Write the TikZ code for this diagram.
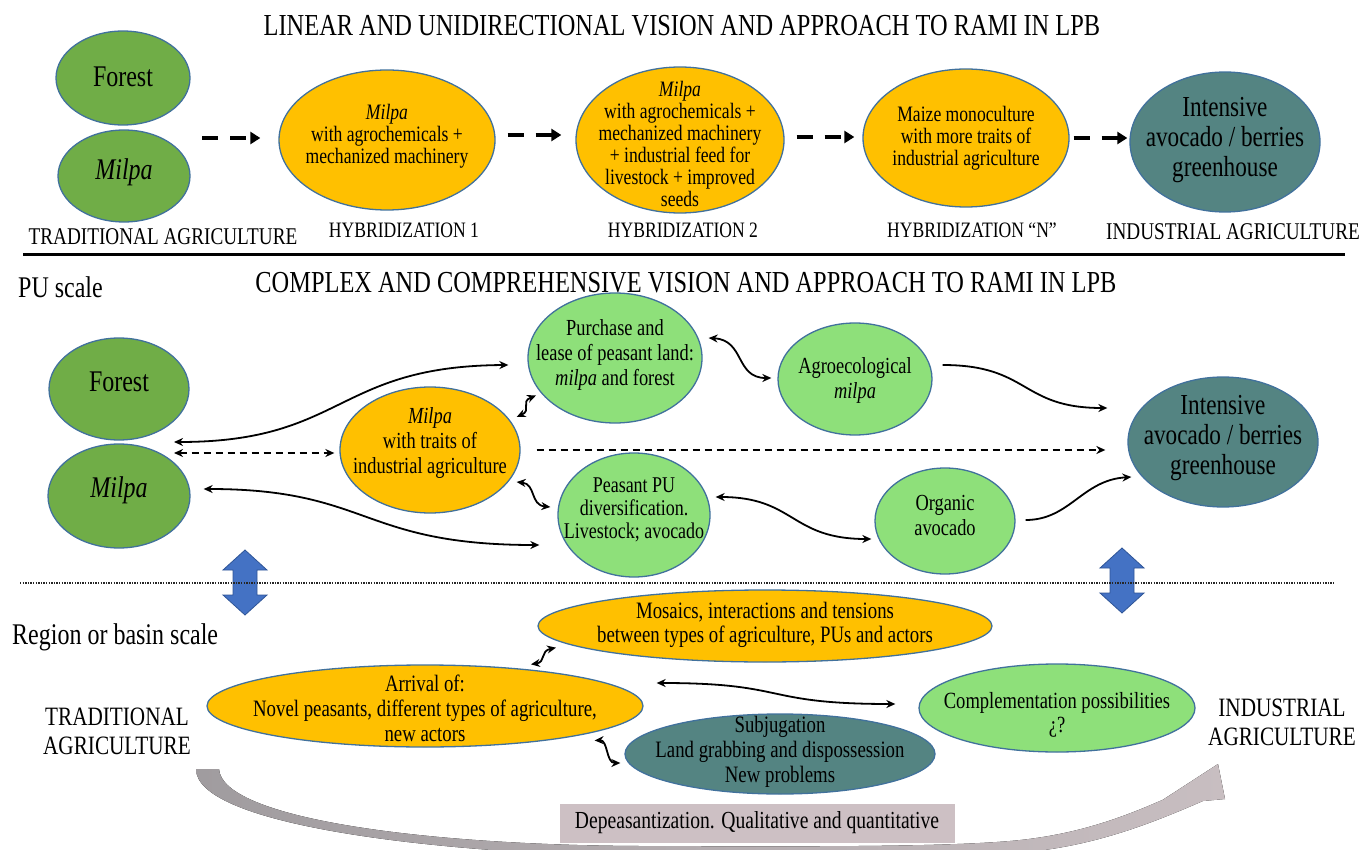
\documentclass[tikz,border=0pt]{standalone}
\usepackage{fontspec}
\setmainfont{Liberation Serif}[FakeStretch=0.8]
\usetikzlibrary{shapes.geometric,arrows.meta,calc}
\definecolor{dkgreen}{RGB}{112,173,71}
\definecolor{orangeC}{RGB}{255,192,0}
\definecolor{ltgreen}{RGB}{142,224,122}
\definecolor{tealC}{RGB}{84,132,130}
\definecolor{outlineC}{RGB}{65,113,156}
\definecolor{blueC}{RGB}{68,114,196}
\definecolor{blueD}{RGB}{47,85,151}
\definecolor{mauveC}{RGB}{205,192,196}
\definecolor{grayL}{RGB}{160,156,159}
\definecolor{grayR}{RGB}{200,190,193}
\newcommand{\myfs}[2]{\fontsize{#1}{#2}\selectfont}
\begin{document}
\begin{tikzpicture}[x=1pt,y=-1pt,
  ell/.style={ellipse,draw=outlineC,line width=1.3pt,inner sep=0pt},
  dg/.style={ell,fill=dkgreen},
  og/.style={ell,fill=orangeC},
  lg/.style={ell,fill=ltgreen},
  tg/.style={ell,fill=tealC},
  txt/.style={align=center,inner sep=0pt},
  t30/.style={txt,font=\myfs{30}{32}},
  t29/.style={txt,font=\myfs{29}{30}},
  t26/.style={txt,font=\myfs{26.5}{29}},
  t24/.style={txt,font=\myfs{24}{25}},
  t23/.style={txt,font=\myfs{23}{25}},
  t22/.style={txt,font=\myfs{22}{22}},
  l22/.style={txt,font=\myfs{22}{22}},
  dasharr/.style={line width=4pt,dash pattern=on 16pt off 12pt,-{Triangle[length=10pt,width=12pt]}},
  con/.style={line width=1.8pt},
  bi/.style={con,{Stealth[length=9pt,width=8pt]}-{Stealth[length=9pt,width=8pt]}},
  one/.style={con,-{Stealth[length=9pt,width=8pt]}},
  bidash/.style={bi,dash pattern=on 7pt off 5pt},
  onedash/.style={one,dash pattern=on 7pt off 5pt},
  bluearr/.style={fill=blueC,draw=blueD,line width=0.8pt}
]
\useasboundingbox (0,0) rectangle (1365,850);
\clip (0,0) rectangle (1365,850);

% ---------------- TOP ----------------
\node[font=\myfs{30.5}{32},inner sep=0pt] (title1) at (682,26) {LINEAR AND UNIDIRECTIONAL VISION AND APPROACH TO RAMI IN LPB};

\node[dg,minimum width=134,minimum height=94] (forestT) at (123,78) {};
\node[t30] (forestTt) at (123,77) {Forest};
\node[dg,minimum width=132,minimum height=92] (milpaT) at (124,176) {};
\node[t30] (milpaTt) at (124,172) {\textit{Milpa}};
\node[t24] (tradT) at (163,237) {TRADITIONAL AGRICULTURE};

\node[og,minimum width=216,minimum height=140] (h1) at (387,140) {};
\node[t22] (h1t) at (387,136) {\textit{Milpa}\\with agrochemicals +\\mechanized machinery};
\node[l22] (h1l) at (404,230) {HYBRIDIZATION 1};

\node[og,minimum width=208,minimum height=146] (h2) at (680,140) {};
\node[t22] (h2t) at (680,144) {\textit{Milpa}\\with agrochemicals +\\mechanized machinery\\+ industrial feed for\\livestock + improved\\seeds};
\node[l22] (h2l) at (683,230) {HYBRIDIZATION 2};

\node[og,minimum width=206,minimum height=138] (hN) at (966,138) {};
\node[t22] (hNt) at (966,138) {Maize monoculture\\with more traits of\\industrial agriculture};
\node[l22] (hNl) at (972,230) {HYBRIDIZATION “N”};

\node[tg,minimum width=190,minimum height=140] (intT) at (1225,142) {};
\node[t29] (intTt) at (1225,140) {Intensive\\avocado / berries\\greenhouse};
\node[t24] (indT) at (1233,232) {INDUSTRIAL AGRICULTURE};

\draw[dasharr] ($(h1.west)+(-76,-2)$) -- ($(h1.west)+(-18,-2)$);
\draw[dasharr] ($(h1.east)+(12,-5)$) -- ($(h2.west)+(-14,-5)$);
\draw[dasharr] ($(h2.east)+(12,-3)$) -- ($(hN.west)+(-8,-1)$);
\draw[dasharr] ($(hN.east)+(4,0)$) -- ($(intT.west)+(-2,-4)$);

\draw[line width=3pt] (23,255) -- (1345,255);

% ---------------- MIDDLE ----------------
\node[t30,anchor=west] (puscale) at (18,287) {PU scale};
\node[font=\myfs{30.5}{32},inner sep=0pt] (title2) at (686,283) {COMPLEX AND COMPREHENSIVE VISION AND APPROACH TO RAMI IN LPB};

\node[dg,minimum width=140,minimum height=102] (forestM) at (119,389) {};
\node[t30] (forestMt) at (119,382) {Forest};
\node[dg,minimum width=142,minimum height=104] (milpaM) at (119,496) {};
\node[t30] (milpaMt) at (119,490) {\textit{Milpa}};

\node[og,minimum width=180,minimum height=126] (milpaInd) at (430,450) {};
\node[t23] (milpaIndt) at (430,443) {\textit{Milpa}\\with traits of\\industrial agriculture};

\node[lg,minimum width=174,minimum height=130] (purch) at (615,358) {};
\node[t23] (purcht) at (615,355) {Purchase and\\lease of peasant land:\\\textit{milpa} and forest};

\node[lg,minimum width=154,minimum height=112] (agro) at (855,379) {};
\node[t23] (agrot) at (855,380) {Agroecological\\\textit{milpa}};

\node[tg,minimum width=190,minimum height=130] (intM) at (1223,442) {};
\node[t29] (intMt) at (1223,438) {Intensive\\avocado / berries\\greenhouse};

\node[lg,minimum width=152,minimum height=124] (peas) at (634,515) {};
\node[txt,font=\myfs{22.5}{23}] (peast) at (634,510) {Peasant PU\\diversification.\\Livestock; avocado};

\node[lg,minimum width=140,minimum height=106] (org) at (945,521) {};
\node[t23] (orgt) at (945,515) {Organic\\avocado};

\coordinate (fmJ) at ($(forestM.south)!0.5!(milpaM.north)$);
\draw[bi] ($(fmJ)+(55,0)$) .. controls (345,442) and (335,366) .. ($(purch.west)+(-19,7)$);
\draw[bidash] ($(fmJ)+(55,11)$) -- ($(milpaInd.west)+(-5,3)$);
\draw[bi] ($(milpaM.east)+(13,-7)$) .. controls (370,489) and (360,545) .. ($(peas.west)+(-18,30)$);
\draw[bi] ($(milpaInd.east)+(-4,-33)$) .. controls (532,410) and (520,402) .. ($(purch.south west)+(-17,-9)$);
\draw[bi] ($(milpaInd.east)+(-4,32)$) .. controls (536,484) and (530,505) .. ($(peas.west)+(-7,-8)$);
\draw[bi] ($(purch.east)+(6,-20)$) .. controls (745,340) and (735,378) .. ($(agro.west)+(-6,-1)$);
\draw[one] ($(agro.east)+(10,-14)$) .. controls (1030,365) and (1020,408) .. ($(intM.west)+(-20,-34)$);
\draw[onedash] ($(milpaInd.east)+(16,0)$) -- ($(intM.west)+(-22,8)$);
\draw[bi] ($(peas.east)+(5,-18)$) .. controls (795,497) and (790,539) .. ($(org.west)+(-3,18)$);
\draw[one] ($(org.east)+(10,-1)$) .. controls (1070,520) and (1082,480) .. ($(intM.west)+(4,35)$);

% blue double arrows
\begin{scope}[shift={(245,550)}]
\filldraw[bluearr] (0,0) -- (22,20) -- (12,20) -- (12,45) -- (22,45) -- (0,65) -- (-22,45) -- (-12,45) -- (-12,20) -- (-22,20) -- cycle;
\end{scope}
\begin{scope}[shift={(1122,548)}]
\filldraw[bluearr] (0,0) -- (22,20) -- (12,20) -- (12,45) -- (22,45) -- (0,65) -- (-22,45) -- (-12,45) -- (-12,20) -- (-22,20) -- cycle;
\end{scope}

\draw[line width=1.3pt,dash pattern=on 1.3pt off 1.3pt,black!85] (20,583) -- (1335,583);

% ---------------- BOTTOM ----------------
\node[t30,anchor=west] (region) at (12,637) {Region or basin scale};
\node[t26] (tradB) at (117,731) {TRADITIONAL\\AGRICULTURE};
\node[t26] (indB) at (1282,722) {INDUSTRIAL\\AGRICULTURE};

\node[og,minimum width=454,minimum height=72] (mosaic) at (765,626) {};
\node[txt,font=\myfs{23.5}{24}] (mosaict) at (765,625) {Mosaics, interactions and tensions\\between types of agriculture, PUs and actors};

\node[og,minimum width=436,minimum height=82] (arrival) at (425,706) {};
\node[txt,font=\myfs{23.5}{25}] (arrivalt) at (425,708) {Arrival of:\\Novel peasants, different types of agriculture,\\new actors};

\node[tg,minimum width=310,minimum height=80] (subj) at (780,754) {};
\node[txt,font=\myfs{23.5}{25}] (subjt) at (780,752) {Subjugation\\Land grabbing and dispossession\\New problems};

\node[lg,minimum width=276,minimum height=88] (compl) at (1057,708) {};
\node[txt,font=\myfs{23.2}{24}] (complt) at (1057,715) {Complementation possibilities\\¿?};

\draw[bi] ($(arrival.east)+(13,-23)$) .. controls (790,683) and (760,704) .. ($(compl.west)+(-23,-4)$);
\draw[bi] ($(arrival.north)+(106,0)$) .. controls (546,662) and (540,651) .. ($(mosaic.south)+(-209,-15)$);
\draw[bi] ($(arrival.south east)+(15,5)$) .. controls (608,740) and (606,763) .. ($(subj.west)+(-4,9)$);

% big gray curved arrow
\fill[left color=grayL,right color=grayR]
  (196,769) -- (219,769)
  .. controls (222,818) and (420,845) .. (640,846)
  .. controls (850,847) and (950,846) .. (1010,841)
  .. controls (1080,835) and (1130,815) .. (1180,792)
  -- (1164,799) -- (1218,764) -- (1225,799) -- (1203,801)
  .. controls (1150,824) and (1090,848) .. (1015,853)
  .. controls (950,857) and (850,858) .. (640,857)
  .. controls (410,852) and (196,822) .. (196,769) -- cycle;

\node[fill=mauveC,minimum width=395,minimum height=39,inner sep=0pt,font=\myfs{24.5}{25}] (dep) at (757,823) {Depeasantization. Qualitative and quantitative};
\end{tikzpicture}
\end{document}
